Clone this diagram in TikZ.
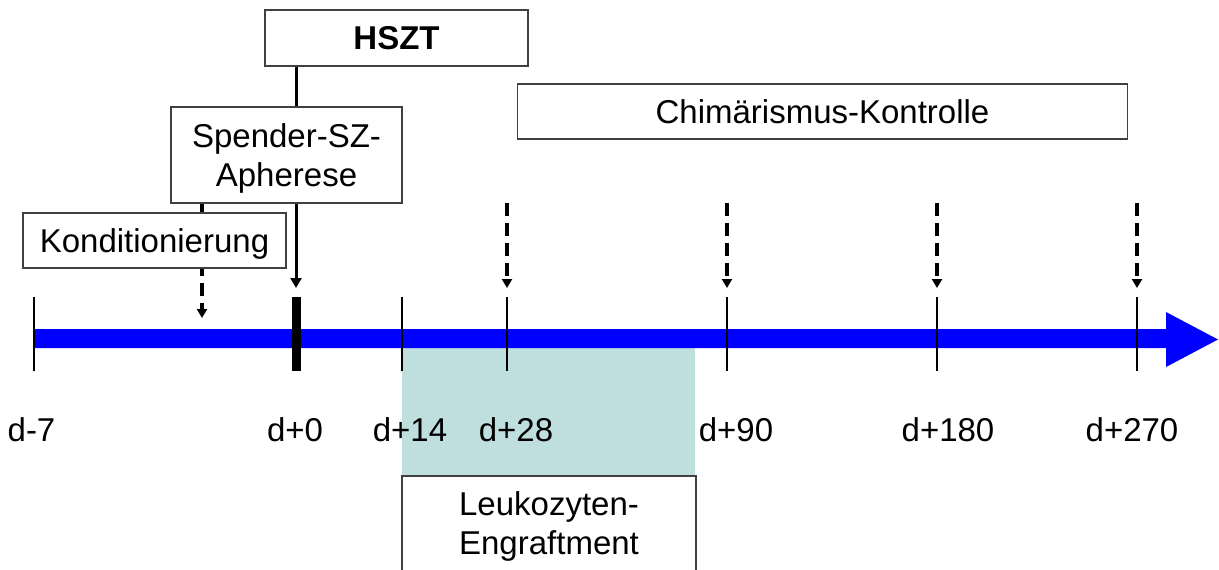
\documentclass[tikz,border=0pt]{standalone}
\usepackage{fontspec}
\setmainfont{Liberation Sans}
\usetikzlibrary{arrows.meta}
\definecolor{tealbg}{HTML}{BFDFDE}
\definecolor{boxline}{HTML}{404040}
\begin{document}
\begin{tikzpicture}[x=1pt,y=-1pt,
  every node/.style={font=\fontsize{33}{39}\selectfont, inner sep=0pt},
  labelbox/.style={draw=boxline, line width=1.3pt, fill=white, align=center, text depth=0pt},
  ticklbl/.style={anchor=base},
  tickline/.style={line width=1.2pt},
  solidarr/.style={line width=3pt, -{Triangle[width=11pt,length=10pt]}},
  dasharr/.style={line width=3.5pt, dash pattern=on 13pt off 7pt, -{Triangle[width=10pt,length=9pt]}}
]
\useasboundingbox (0,0) rectangle (1219,570);
\clip (0,0) rectangle (1219,570);
% engraftment period
\fill[tealbg] (402,348) rectangle (695,476);
% timeline arrow
\fill[blue] (34,329) -- (1166,329) -- (1166,312) -- (1218,339.5) -- (1166,367) -- (1166,348) -- (34,348) -- cycle;
% ticks
\foreach \x/\n in {34/tA,402/tC,507/tD,727/tE,937/tF,1137/tG}{
  \draw[tickline] (\x,297) -- (\x,371);
}
\fill (291.5,297) rectangle (300.5,371);
% day labels
\node[ticklbl] (lA) at (31.5,441) {d-7};
\node[ticklbl] (lB) at (295,441) {d+0};
\node[ticklbl] (lC) at (410,441) {d+14};
\node[ticklbl] (lD) at (516,441) {d+28};
\node[ticklbl] (lE) at (736,441) {d+90};
\node[ticklbl] (lF) at (948,441) {d+180};
\node[ticklbl] (lG) at (1132,441) {d+270};
% arrow end points
\coordinate (a0) at (296,288);
\coordinate (ak) at (202,318);
\foreach \x/\n in {507/c1,727/c2,937/c3,1137/c4}{
  \coordinate (\n s) at (\x,203);
  \coordinate (\n e) at (\x,288);
  \draw[dasharr] (\n s) -- (\n e);
}
% boxes
\node (hszt) at (396.5,38) [labelbox, minimum width=263pt, minimum height=56pt] {\textbf{HSZT}};
\node (chim) at (822.5,111.5) [labelbox, minimum width=610pt, minimum height=55pt] {Chimärismus-Kontrolle};
\draw[solidarr] (hszt.south -| a0) -- (a0);
\draw[dasharr] (202,203) -- (ak);
\node (spender) at (286.5,155) [labelbox, minimum width=231pt, minimum height=96pt] {Spender-SZ-\\Apherese};
\node (kond) at (154.5,240.5) [labelbox, minimum width=263pt, minimum height=55pt] {Konditionierung};
\node (leuko) at (549,523.5) [labelbox, minimum width=294pt, minimum height=95pt] {Leukozyten-\\Engraftment};
\end{tikzpicture}
\end{document}
